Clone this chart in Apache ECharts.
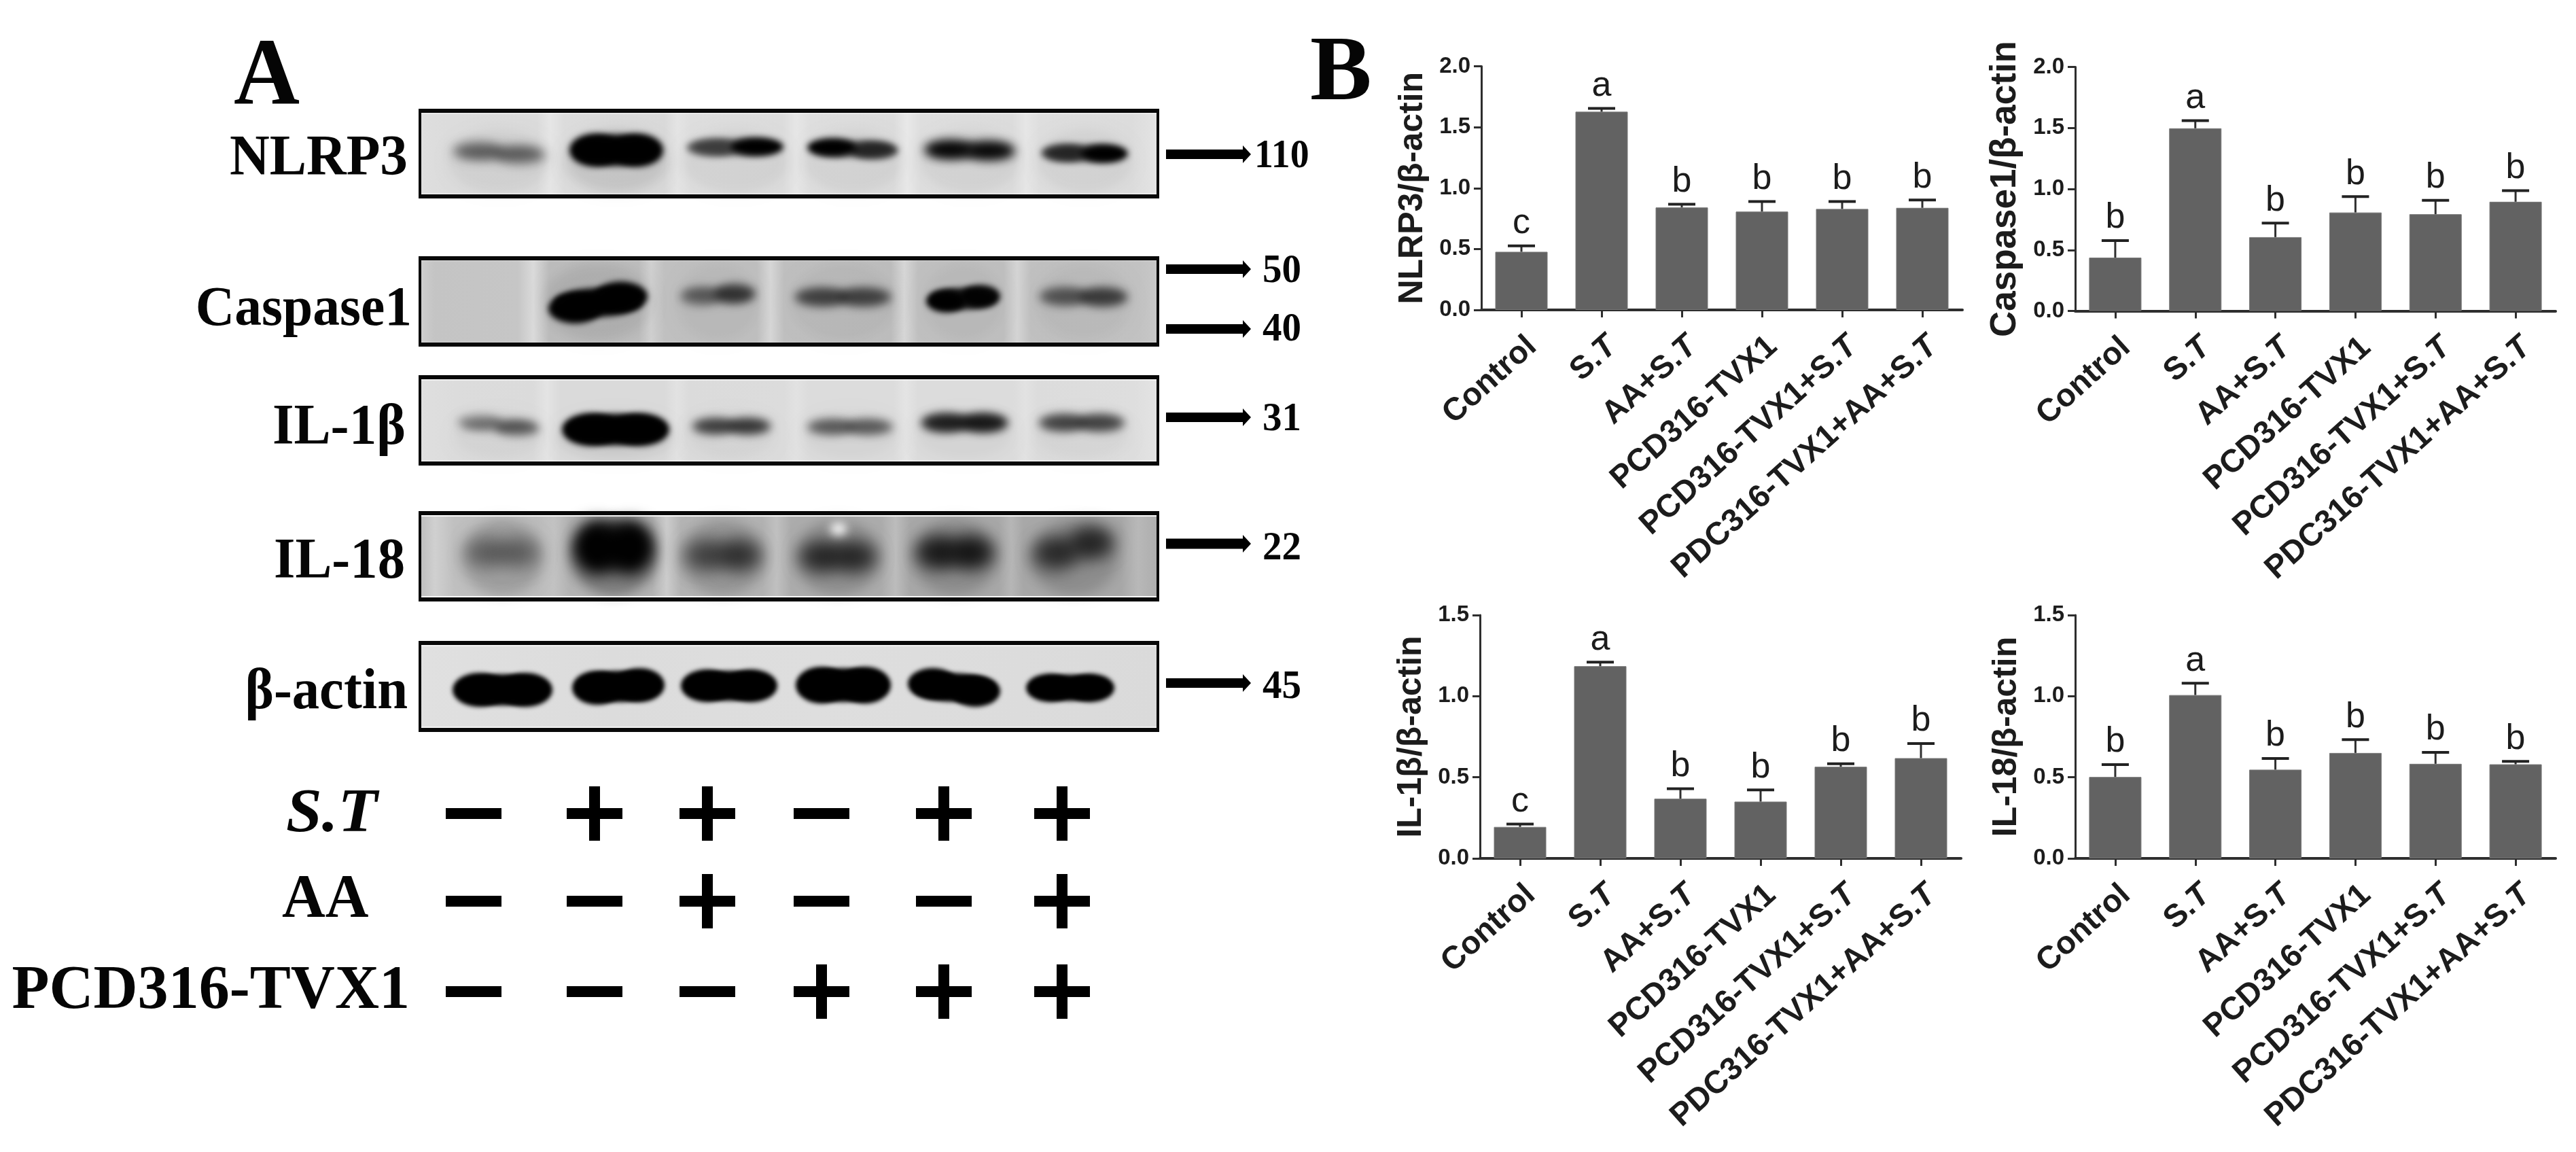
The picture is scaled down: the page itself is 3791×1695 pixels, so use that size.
<!DOCTYPE html>
<html>
<head>
<meta charset="utf-8">
<style>html,body{margin:0;padding:0;background:#fff}#c{width:3791px;height:1695px}</style>
<script src="https://cdn.jsdelivr.net/npm/echarts@6/dist/echarts.min.js"></script>
</head>
<body>
<div id="c"></div>
<script>
// ---------- Panel B data ----------
const categories = ['Control','S.T','AA+S.T','PCD316-TVX1','PCD316-TVX1+S.T','PDC316-TVX1+AA+S.T'];
const nlrp3Mean = [0.477,1.627,0.841,0.807,0.829,0.838];
const nlrp3Err  = [0.049,0.027,0.027,0.083,0.061,0.064];
const nlrp3Sig  = ['c','a','b','b','b','b'];
const casp1Mean = [0.437,1.497,0.605,0.807,0.793,0.895];
const casp1Err  = [0.140,0.063,0.115,0.130,0.113,0.091];
const casp1Sig  = ['b','a','b','b','b','b'];
const il1bMean  = [0.194,1.185,0.368,0.350,0.565,0.618];
const il1bErr   = [0.018,0.025,0.061,0.072,0.018,0.090];
const il1bSig   = ['c','a','b','b','b','b'];
const il18Mean  = [0.502,1.007,0.547,0.650,0.583,0.580];
const il18Err   = [0.076,0.073,0.069,0.082,0.071,0.018];
const il18Sig   = ['b','a','b','b','b','b'];

// ---------- Panel A data ----------
const stRow  = ['-','+','+','-','+','+'];
const aaRow  = ['-','-','+','-','-','+'];
const pcdRow = ['-','-','-','+','+','+'];
// band density per lane: [left lobe, middle, right lobe], 0..1
const nlrp3Density = [[.42,.28,.42],[1,1,1],[.5,.42,1],[1,.42,.7],[.95,.62,.92],[.65,.5,1]];
const casp1Density = [[0,0,0],[1,1,1],[.32,.32,.62],[.52,.3,.52],[1,.8,.95],[.42,.28,.58]];
const il1bDensity  = [[.3,.3,.48],[1,1,1],[.52,.42,.58],[.42,.3,.42],[.72,.52,.78],[.52,.38,.52]];
const il18Density  = [[.28,.22,.28],[1,1,1],[.4,.32,.55],[.55,.45,.55],[.65,.55,.7],[.6,.4,.65]];
const actinDensity = [[1,1,1],[1,1,1],[1,1,1],[1,1,1],[1,1,1],[1,1,1]];
const markerKDa = {nlrp3:['110'],casp1:['50','40'],il1b:['31'],il18:['22'],actin:['45']};

// ---------- Layout (pixels on the hidden page-size axes) ----------
const FONT_SANS='"Liberation Sans",Arial,sans-serif', FONT_SERIF='"Liberation Serif","Times New Roman",serif';
const BAR='#626262', AXIS='#2e2e2e', OFF=6000;
const chartLayout=[
 {mean:nlrp3Mean,err:nlrp3Err,sig:nlrp3Sig,name:'NLRP3/β-actin',max:2,box:[2180,97.5,708,358.5],nameSize:50},
 {mean:casp1Mean,err:casp1Err,sig:casp1Sig,name:'Caspase1/β-actin',max:2,box:[3054,98.5,707,359],nameSize:53},
 {mean:il1bMean,err:il1bErr,sig:il1bSig,name:'IL-1β/β-actin',max:1.5,box:[2178,905,708,358],nameSize:50},
 {mean:il18Mean,err:il18Err,sig:il18Sig,name:'IL-18/β-actin',max:1.5,box:[3054,905,707,358],nameSize:50}
];
const blotX=[616,1706];
// bands: [x0,x1,yLeft,yRight,thickness]
const blots=[
 {y:[160,292],density:nlrp3Density,blur:15,hardBlur:10,waist:.5,smear:.05,smearTop:30,edge:.35,
  bg:[[616,'#dedede'],[660,'#dcdcdc'],[790,'#dbdbdb'],[810,'#e6e6e6'],[830,'#dcdcdc'],[978,'#d9d9d9'],[997,'#e4e4e4'],[1016,'#dedede'],[1152,'#dcdcdc'],[1172,'#e6e6e6'],[1192,'#dedede'],[1315,'#dcdcdc'],[1335,'#e8e8e8'],[1355,'#dedede'],[1490,'#dcdcdc'],[1510,'#e6e6e6'],[1530,'#dedede'],[1665,'#dcdcdc'],[1706,'#e4e4e4']],
  bands:[[666,803,222,228,26],[838,976,221,221,46],[1010,1153,217,216,26],[1188,1322,217,221,26],[1360,1494,220,222,26],[1532,1660,225,226,26]]},
 {y:[377,510],density:casp1Density,blur:13,hardBlur:8,waist:.5,smear:.04,smearTop:10,edge:.1,
  bg:[[616,'#cfcfcf'],[640,'#c4c4c4'],[762,'#c6c6c6'],[785,'#dadada'],[808,'#bcbcbc'],[940,'#bdbdbd'],[958,'#d0d0d0'],[978,'#c0c0c0'],[1114,'#bfbfbf'],[1134,'#d6d6d6'],[1154,'#bfbfbf'],[1311,'#bdbdbd'],[1331,'#d6d6d6'],[1351,'#c0c0c0'],[1477,'#bfbfbf'],[1497,'#d4d4d4'],[1517,'#c0c0c0'],[1675,'#c2c2c2'],[1706,'#c8c8c8']],
  bands:[[0,0,0,0,0],[807,953,454,436,42],[1000,1112,436,432,28],[1169,1312,437,437,28],[1363,1472,443,436,32],[1529,1660,436,437,28]]},
 {y:[552,685],density:il1bDensity,blur:13,hardBlur:8,waist:.5,smear:.035,smearTop:55,edge:.45,
  bg:[[616,'#dfdfdf'],[670,'#dcdcdc'],[785,'#dbdbdb'],[805,'#e4e4e4'],[825,'#dadada'],[978,'#dadada'],[996,'#e2e2e2'],[1014,'#dbdbdb'],[1154,'#dcdcdc'],[1172,'#e2e2e2'],[1190,'#dcdcdc'],[1315,'#dcdcdc'],[1333,'#e4e4e4'],[1351,'#dcdcdc'],[1491,'#dcdcdc'],[1509,'#e2e2e2'],[1527,'#dcdcdc'],[1670,'#dedede'],[1706,'#e4e4e4']],
  bands:[[673,794,621,630,22],[827,985,632,632,46],[1018,1135,627,627,24],[1187,1315,628,628,24],[1355,1484,622,622,28],[1528,1656,622,622,26]]},
 {y:[752,885],density:il18Density,blur:24,hardBlur:24,waist:.42,smear:.16,smearTop:12,edge:.9,
  bg:[[616,'#bcbcbc'],[640,'#d0d0d0'],[668,'#c0c0c0'],[790,'#bcbcbc'],[815,'#c2c2c2'],[838,'#b4b4b4'],[960,'#b4b4b4'],[981,'#cccccc'],[1002,'#b4b4b4'],[1122,'#b2b2b2'],[1143,'#c0c0c0'],[1164,'#acacac'],[1297,'#acacac'],[1318,'#bcbcbc'],[1339,'#a8a8a8'],[1470,'#a8a8a8'],[1488,'#b6b6b6'],[1506,'#a8a8a8'],[1650,'#a8a8a8'],[1675,'#b8b8b8'],[1706,'#acacac']],
  bands:[[684,794,813,813,44],[846,960,805,805,74],[1007,1120,817,817,46],[1176,1290,819,819,46],[1348,1462,813,813,48],[1520,1640,817,796,44]]},
 {y:[943,1077],density:actinDensity,blur:9,hardBlur:6,waist:.48,smear:0,smearTop:0,edge:.6,
  bg:[[616,'#e0e0e0'],[900,'#dcdcdc'],[1200,'#dedede'],[1500,'#dcdcdc'],[1706,'#dadada']],
  bands:[[666,813,1015,1015,48],[842,978,1012,1008,48],[1002,1144,1009,1009,46],[1171,1311,1008,1008,52],[1336,1472,1006,1017,44],[1510,1640,1012,1012,40]]}
];
const arrows=[
 {label:markerKDa.nlrp3[0],y:227,h:14,base:245,x:1846,sx:.93},
 {label:markerKDa.casp1[0],y:396,h:14,base:414,x:1858,sx:.95},
 {label:markerKDa.casp1[1],y:484,h:14,base:500,x:1858,sx:.95},
 {label:markerKDa.il1b[0],y:614,h:14,base:632,x:1858,sx:.95},
 {label:markerKDa.il18[0],y:800,h:15,base:822,x:1858,sx:.95},
 {label:markerKDa.actin[0],y:1005,h:14,base:1026,x:1858,sx:.95}
];
const signX=[697,875,1041,1209,1389,1563], signRows=[[stRow,1197],[aaRow,1326],[pcdRow,1459]];
// [text, x, baseline, size, align, scaleX, italic]
const labels=[
 ['A',344,152,140,'left',.96,0],['B',1928,145,136,'left',1,0],
 ['NLRP3',600,256,85,'right',.957,0],['Caspase1',606,477,82,'right',.97,0],
 ['IL-1β',597,652,85,'right',.955,0],['IL-18',596,849,85,'right',.95,0],['β-actin',600,1041,84,'right',.96,0],
 ['S.T',421,1222,92,'left',1.03,1],['AA',415,1348,90,'left',.98,0],['PCD316-TVX1',603,1482,91,'right',.99,0]
];

// ---------- helpers ----------
const gray=(a)=>'rgba(0,0,0,'+a+')';
function blob(api,x,y,rx,ry,color,blur){
  const c=api.coord([x,y]);
  return {type:'ellipse',silent:true,shape:{cx:c[0]-OFF,cy:c[1],rx:rx,ry:ry},
    style:{fill:'#000',shadowColor:color,shadowBlur:blur,shadowOffsetX:OFF,shadowOffsetY:0}};
}
function boxRect(api,x0,y0,x1,y1,style){
  const a=api.coord([x0,y0]),b=api.coord([x1,y1]);
  return {type:'rect',silent:true,shape:{x:a[0],y:a[1],width:b[0]-a[0],height:b[1]-a[1]},style:style};
}
function label(api,t){
  const p=api.coord([t[1],t[2]-.25*t[3]]);
  return {type:'text',silent:true,x:p[0],y:p[1],scaleX:t[5],
    style:{text:t[0],fontFamily:FONT_SERIF,fontSize:t[3],fontWeight:'bold',fontStyle:t[6]?'italic':'normal',fill:'#050505',align:t[4],verticalAlign:'middle'}};
}

// ---------- options ----------
const grid=[],xAxis=[],yAxis=[],series=[];
chartLayout.forEach((ch,k)=>{
  grid.push({left:ch.box[0],top:ch.box[1],width:ch.box[2],height:ch.box[3],containLabel:false});
  xAxis.push({type:'category',gridIndex:k,data:categories,boundaryGap:true,
    axisLine:{show:true,onZero:false,lineStyle:{color:AXIS,width:4}},
    axisTick:{show:true,alignWithLabel:true,length:11,lineStyle:{color:AXIS,width:3}},
    axisLabel:{show:true,interval:0,rotate:42,align:'right',verticalAlign:'top',margin:30,hideOverlap:false,color:'#1c1c1c',fontFamily:FONT_SANS,fontWeight:'bold',fontSize:47,
      formatter:v=>v.replace(/S\.T$/,'S.{i|T}'),
      rich:{i:{fontStyle:'italic',fontWeight:'bold',fontFamily:FONT_SANS,fontSize:47,color:'#1c1c1c'}}},
    splitLine:{show:false}});
  yAxis.push({type:'value',gridIndex:k,min:0,max:ch.max,interval:.5,
    name:ch.name,nameLocation:'middle',nameGap:76,nameRotate:90,nameMoveOverlap:false,
    nameTextStyle:{fontFamily:FONT_SANS,fontWeight:'bold',fontSize:ch.nameSize,color:'#1c1c1c'},
    axisLine:{show:true,onZero:false,lineStyle:{color:AXIS,width:3}},
    axisTick:{show:true,length:11,lineStyle:{color:AXIS,width:3}},
    axisLabel:{show:true,margin:16,color:'#1c1c1c',fontFamily:FONT_SANS,fontWeight:'bold',fontSize:33,formatter:v=>v.toFixed(1)},
    splitLine:{show:false}});
  series.push({type:'bar',xAxisIndex:k,yAxisIndex:k,data:ch.mean,barWidth:77,silent:true,
    itemStyle:{color:BAR,borderColor:'#777',borderWidth:1},z:3,animation:false});
  series.push({type:'custom',xAxisIndex:k,yAxisIndex:k,silent:true,z:4,animation:false,clip:false,
    data:ch.mean.map((m,i)=>[i,m,m+ch.err[i]]),
    renderItem:(p,api)=>{
      const a=api.coord([api.value(0),api.value(1)]),b=api.coord([api.value(0),api.value(2)]);
      return {type:'group',children:[
        {type:'line',shape:{x1:a[0],y1:a[1],x2:b[0],y2:b[1]},style:{stroke:'#303030',lineWidth:3}},
        {type:'line',shape:{x1:b[0]-20,y1:b[1],x2:b[0]+20,y2:b[1]},style:{stroke:'#222',lineWidth:4}},
        {type:'text',x:b[0],y:b[1]-7,style:{text:ch.sig[p.dataIndex],fontFamily:FONT_SANS,fontSize:52,fill:'#1c1c1c',align:'center',verticalAlign:'bottom',lineHeight:52}}
      ]};
    }});
});

// hidden page-size axes for panel A
const A=chartLayout.length;
grid.push({left:0,top:0,width:3791,height:1695,containLabel:false});
xAxis.push({type:'value',gridIndex:A,min:0,max:3791,show:false});
yAxis.push({type:'value',gridIndex:A,min:0,max:1695,inverse:true,show:false});
const panel=(data,render,z)=>series.push({type:'custom',xAxisIndex:A,yAxisIndex:A,silent:true,animation:false,clip:false,z:z,data:data,renderItem:render});

blots.forEach((bl,bi)=>{
  const [x0,x1]=blotX,[y0,y1]=bl.y, w=x1-x0;
  // membrane background with lane streaks
  panel([[bi]],(p,api)=>boxRect(api,x0,y0,x1,y1,{fill:new echarts.graphic.LinearGradient(0,0,1,0,
    bl.bg.map(s=>({offset:(s[0]-x0)/w,color:s[1]})))}),10);
  // bands
  panel(bl.density.map((d,i)=>[i,d[0],d[1],d[2]]),(p,api)=>{
    const b=bl.bands[p.dataIndex],dL=api.value(1),dM=api.value(2),dR=api.value(3),kids=[];
    if(!(dL||dM||dR)) return {type:'group',children:[]};
    const bw=b[1]-b[0],ym=(b[2]+b[3])/2;
    if(bl.smear) kids.push(blob(api,(b[0]+b[1])/2,(y0+bl.smearTop+y1-8)/2,bw*.55,(y1-8-y0-bl.smearTop)/2,gray(bl.smear*(dM>.9?2:1)),18));
    const hard=Math.max(dL,dM,dR)>=.99, blur=hard?bl.hardBlur:bl.blur;
    kids.push(blob(api,b[0]+bw*.5,ym,bw*.44,b[4]*(hard?bl.waist:.4),gray(dM),blur));
    kids.push(blob(api,b[0]+bw*.27,b[2],bw*.27,b[4]*.52,gray(dL),blur));
    kids.push(blob(api,b[1]-bw*.27,b[3],bw*.27,b[4]*.52,gray(dR),blur));
    return {type:'group',children:kids};
  },11);
  // bright inner edge and black frame
  panel([[bi]],(p,api)=>({type:'group',children:[
    boxRect(api,x0+3,y0+6,x1-3,y0+8,{fill:'rgba(255,255,255,'+bl.edge+')'}),
    boxRect(api,x0+3,y1-8,x1-3,y1-6,{fill:'rgba(255,255,255,'+bl.edge+')'}),
    boxRect(api,x0,y0,x1,y0+6,{fill:'#080808'}),boxRect(api,x0,y1-6,x1,y1,{fill:'#080808'}),
    boxRect(api,x0,y0,x0+4,y1,{fill:'#080808'}),boxRect(api,x1-4,y0,x1,y1,{fill:'#080808'})
  ]}),13);
});
// white spot on the IL-18 membrane
panel([[0]],(p,api)=>blob(api,1234,778,12,9,'rgba(255,255,255,.98)',14),12);
// marker arrows + sizes
panel(arrows.map((a,i)=>[i]),(p,api)=>{
  const a=arrows[p.dataIndex];
  const pts=[[1716,a.y-a.h/2],[1829,a.y-a.h/2],[1829,a.y-13],[1841,a.y],[1829,a.y+13],[1829,a.y+a.h/2],[1716,a.y+a.h/2]].map(q=>api.coord(q));
  return {type:'group',children:[
    {type:'polygon',shape:{points:pts},style:{fill:'#000'}},
    label(api,[a.label,a.x,a.base,60,'left',a.sx,0])
  ]};
},14);
// treatment +/- matrix
const signData=[];signRows.forEach((r,ri)=>r[0].forEach((s,ci)=>signData.push([ci,ri,s==='+'?1:0])));
panel(signData,(p,api)=>{
  const cx=signX[api.value(0)],cy=signRows[api.value(1)][1],kids=[boxRect(api,cx-41,cy-8,cx+41,cy+8,{fill:'#000'})];
  if(api.value(2)) kids.push(boxRect(api,cx-8,cy-40,cx+8,cy+40,{fill:'#000'}));
  return {type:'group',children:kids};
},14);
// text labels
panel(labels.map((t,i)=>[i]),(p,api)=>label(api,labels[p.dataIndex]),15);

const chart=echarts.init(document.getElementById('c'),null,{renderer:'canvas',width:3791,height:1695});
chart.setOption({animation:false,backgroundColor:'#ffffff',tooltip:{show:false},legend:{show:false},grid,xAxis,yAxis,series});
</script>
</body>
</html>
